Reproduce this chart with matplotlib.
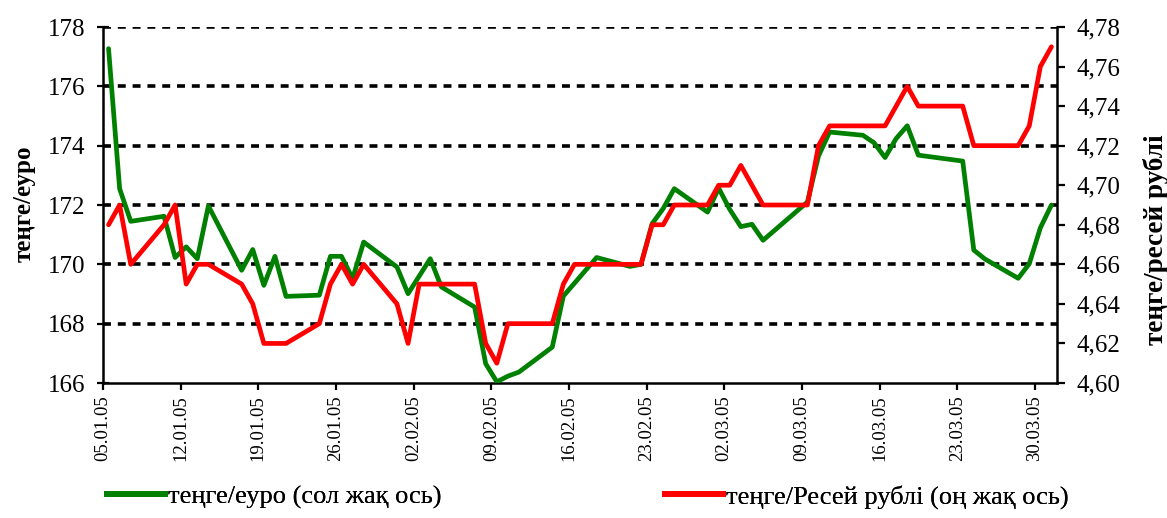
import matplotlib
matplotlib.use('Agg')
import matplotlib.pyplot as plt
import matplotlib.dates as mdates
from matplotlib.lines import Line2D
from matplotlib.ticker import FixedLocator, FuncFormatter
import datetime as dt

# ---- data ----
eur_dates = ["05.01", "06.01", "07.01", "10.01", "11.01", "12.01", "13.01", "14.01",
             "17.01", "18.01", "19.01", "20.01", "21.01", "24.01", "25.01", "26.01",
             "27.01", "28.01", "31.01", "01.02", "03.02", "04.02", "07.02", "08.02",
             "09.02", "10.02", "11.02", "14.02", "15.02", "18.02", "21.02", "22.02",
             "23.02", "24.02", "25.02", "28.02", "01.03", "02.03", "03.03", "04.03",
             "05.03", "09.03", "10.03", "11.03", "14.03", "15.03", "16.03", "17.03",
             "18.03", "19.03", "23.03", "24.03", "25.03", "28.03", "29.03", "30.03",
             "31.03"]
eur_values = [177.27, 172.55, 171.45, 171.62, 170.23, 170.59, 170.19, 171.97,
              169.80, 170.50, 169.29, 170.27, 168.92, 168.96, 170.27, 170.27,
              169.52, 170.75, 169.91, 169.01, 170.19, 169.24, 168.56, 166.65,
              166.04, 166.23, 166.37, 167.21, 168.93, 170.23, 169.93, 170.00,
              171.37, 171.88, 172.55, 171.76, 172.57, 171.85, 171.27, 171.35,
              170.81, 172.10, 173.65, 174.46, 174.35, 174.10, 173.60, 174.24,
              174.67, 173.68, 173.48, 170.48, 170.18, 169.53, 170.02, 171.23,
              172.00]

rub_dates = ["05.01", "06.01", "07.01", "10.01", "11.01", "12.01", "13.01", "14.01",
             "17.01", "18.01", "19.01", "20.01", "21.01", "24.01", "25.01", "26.01",
             "27.01", "28.01", "31.01", "01.02", "02.02", "03.02", "04.02", "07.02",
             "08.02", "09.02", "10.02", "11.02", "14.02", "15.02", "16.02", "17.02",
             "18.02", "21.02", "22.02", "23.02", "24.02", "25.02", "28.02", "01.03",
             "02.03", "03.03", "05.03", "09.03", "10.03", "11.03", "14.03", "15.03",
             "16.03", "18.03", "19.03", "23.03", "24.03", "25.03", "28.03", "29.03",
             "30.03", "31.03"]
rub_values = [4.68, 4.69, 4.66, 4.68, 4.69, 4.65, 4.66, 4.66,
              4.65, 4.64, 4.62, 4.62, 4.62, 4.63, 4.65, 4.66,
              4.65, 4.66, 4.64, 4.62, 4.65, 4.65, 4.65, 4.65,
              4.62, 4.61, 4.63, 4.63, 4.63, 4.65, 4.66, 4.66,
              4.66, 4.66, 4.66, 4.68, 4.68, 4.69, 4.69, 4.70,
              4.70, 4.71, 4.69, 4.69, 4.72, 4.73, 4.73, 4.73,
              4.73, 4.75, 4.74, 4.74, 4.72, 4.72, 4.72, 4.73,
              4.76, 4.77]

tick_labels = ["05.01.05", "12.01.05", "19.01.05", "26.01.05", "02.02.05", "09.02.05",
               "16.02.05", "23.02.05", "02.03.05", "09.03.05", "16.03.05", "23.03.05",
               "30.03.05"]
left_ticks = [166, 168, 170, 172, 174, 176, 178]
right_ticks = [4.60, 4.62, 4.64, 4.66, 4.68, 4.70, 4.72, 4.74, 4.76, 4.78]

series_eur_label = "теңге/еуро (сол жақ ось)"
series_rub_label = "теңге/Ресей рублі (оң жақ ось)"
left_title = "теңге/еуро"
right_title = "теңге/ресей рублі"

# ---- helpers ----
def to_dt(s, year=2005):
    return dt.datetime.strptime(s + "." + str(year), "%d.%m.%Y")

def mid(s):
    return to_dt(s) + dt.timedelta(hours=12)

plt.rcParams['font.family'] = ['Liberation Serif', 'DejaVu Serif']

W, H = 1167, 518
fig = plt.figure(figsize=(W / 100, H / 100), dpi=100)
x0, x1, y0, y1 = 103, 1057, 27, 383
ax = fig.add_axes([x0 / W, 1 - y1 / H, (x1 - x0) / W, (y1 - y0) / H])

GREEN = '#008000'
RED = '#FF0000'
LW = 3.4

ax.plot([mid(d) for d in eur_dates], eur_values, color=GREEN, lw=LW,
        solid_joinstyle='round', solid_capstyle='round', zorder=3)

ax.set_ylim(166, 178)
ax.set_xlim(to_dt("05.01"), to_dt("01.04"))
ax.yaxis.set_major_locator(FixedLocator(left_ticks))
ax.set_yticklabels([str(v) for v in left_ticks])
ax.xaxis.set_major_locator(FixedLocator([mdates.date2num(to_dt(t[:5])) for t in tick_labels]))
ax.set_xticklabels(tick_labels, rotation=90)

# dashed horizontal gridlines (not on the bottom axis line)
for v in left_ticks[1:]:
    ax.axhline(v, color='black', linestyle=(0, (2.2, 1.9)), linewidth=2.6, zorder=1)

for sp in ['top', 'right']:
    ax.spines[sp].set_visible(False)
for sp in ['left', 'bottom']:
    ax.spines[sp].set_linewidth(1.8)
    ax.spines[sp].set_color('black')

ax.tick_params(axis='y', direction='inout', length=8, width=1.6, pad=9, labelsize=18)
ax.tick_params(axis='x', direction='out', length=5, width=1.6, pad=4, labelsize=13.5)

ax2 = ax.twinx()
ax2.plot([mid(d) for d in rub_dates], rub_values, color=RED, lw=LW,
         solid_joinstyle='round', solid_capstyle='round', zorder=4)
ax2.set_ylim(4.60, 4.78)
ax2.yaxis.set_major_locator(FixedLocator(right_ticks))
ax2.yaxis.set_major_formatter(FuncFormatter(lambda v, p: f"{v:.2f}".replace('.', ',')))
for sp in ['top', 'left', 'bottom']:
    ax2.spines[sp].set_visible(False)
ax2.spines['right'].set_linewidth(1.8)
ax2.tick_params(axis='y', direction='out', length=6, width=1.6, pad=8, labelsize=18)

fig.text(24 / W, 1 - 204 / H, left_title, rotation=90, ha='center', va='center',
         fontsize=18, fontweight='bold')
fig.text(1156 / W, 1 - 240 / H, right_title, rotation=90, ha='center', va='center',
         fontsize=19.5, fontweight='bold')

# legends
h1 = Line2D([], [], color=GREEN, lw=4.2)
h2 = Line2D([], [], color=RED, lw=4.2)
ly = 1 - 497 / H
for h, lab, lx in [(h1, series_eur_label, 107), (h2, series_rub_label, 665)]:
    leg = fig.legend([h], [lab], loc='center left', bbox_to_anchor=(lx / W, ly),
                     frameon=False, fontsize=19, handlelength=2.2, handletextpad=0.12,
                     borderpad=0, borderaxespad=0)
    fig.add_artist(leg)

fig.savefig('out.png', dpi=100)
